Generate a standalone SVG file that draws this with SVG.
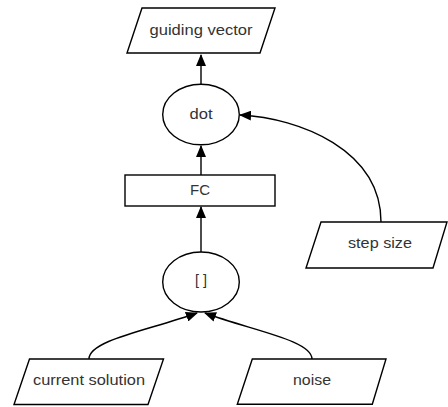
<svg xmlns="http://www.w3.org/2000/svg" width="448" height="407" viewBox="0 0 448 407">
<style>
.shape{fill:#fff;stroke:#000;stroke-width:1.4}
.lbl{font-family:"Liberation Sans",Arial,sans-serif;font-size:14px;fill:#333;text-anchor:middle}
.edge{fill:none;stroke:#000;stroke-width:1.4}
</style>
<defs>
<marker id="ah" viewBox="0 0 12 10" refX="11" refY="5" markerWidth="12" markerHeight="10" markerUnits="userSpaceOnUse" orient="auto">
<path d="M0,0 L12,5 L0,10 Z" fill="#000"/>
</marker>
</defs>
<rect width="448" height="407" fill="#fff"/>
<g id="connectors">
<path class="edge" d="M201,84 L201,55" marker-end="url(#ah)"/>
<path class="edge" d="M201,175 L201,146" marker-end="url(#ah)"/>
<path class="edge" d="M201,252 L201,207" marker-end="url(#ah)"/>
<path class="edge" d="M381,222 C381,150 300,118 240,115" marker-end="url(#ah)"/>
<path class="edge" d="M89,359 C89,340 150,330 197,313" marker-end="url(#ah)"/>
<path class="edge" d="M312,359 C312,340 250,330 205,313" marker-end="url(#ah)"/>
</g>
<g id="guiding_vector">
<polygon class="shape" points="142,8 275,8 260,53 127,53"/>
<text class="lbl" x="201" y="34.5" textLength="103" lengthAdjust="spacingAndGlyphs">guiding vector</text>
</g>
<g id="dot">
<ellipse class="shape" cx="201" cy="114.5" rx="38.3" ry="30.3"/>
<text class="lbl" x="201" y="118.5" textLength="23" lengthAdjust="spacingAndGlyphs">dot</text>
</g>
<g id="fc">
<rect class="shape" x="125" y="175" width="150" height="31"/>
<text class="lbl" x="200" y="195" textLength="20" lengthAdjust="spacingAndGlyphs">FC</text>
</g>
<g id="concat">
<ellipse class="shape" cx="201" cy="282" rx="38.3" ry="30"/>
<text class="lbl" x="201" y="285" textLength="12" lengthAdjust="spacingAndGlyphs">[ ]</text>
</g>
<g id="step_size">
<polygon class="shape" points="321,222 447,222 433,268 306,268"/>
<text class="lbl" x="380" y="248" textLength="64" lengthAdjust="spacingAndGlyphs">step size</text>
</g>
<g id="current_solution">
<polygon class="shape" points="29.5,359 163.5,359 148,404.5 14,404.5"/>
<text class="lbl" x="89" y="385" textLength="112" lengthAdjust="spacingAndGlyphs">current solution</text>
</g>
<g id="noise">
<polygon class="shape" points="252.3,359 386,359 372.3,404.3 237.3,404.3"/>
<text class="lbl" x="312" y="385" textLength="38" lengthAdjust="spacingAndGlyphs">noise</text>
</g>
</svg>
